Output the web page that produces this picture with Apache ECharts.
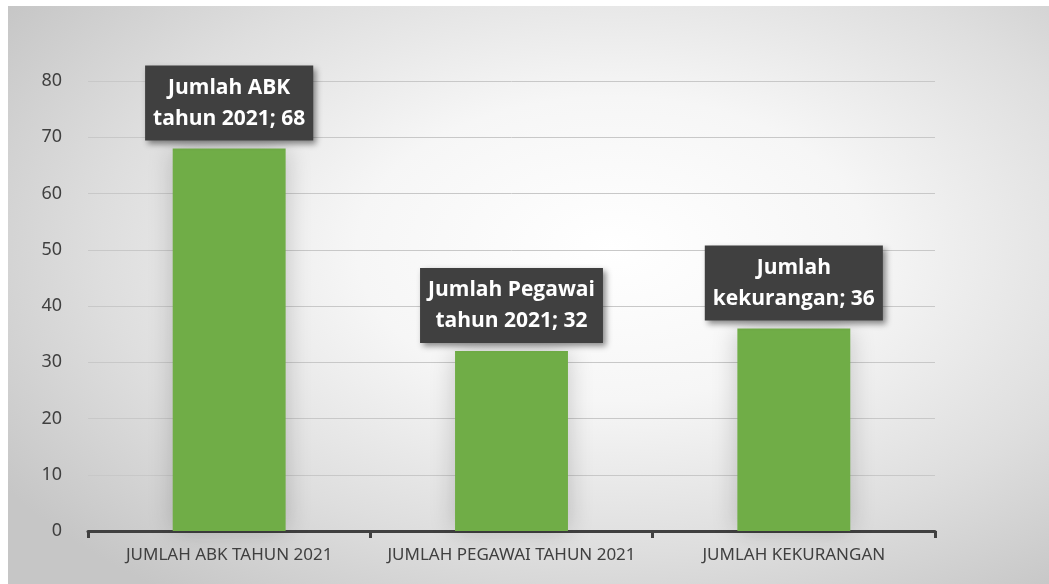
<!DOCTYPE html>
<html>
<head>
<meta charset="utf-8">
<script src="https://cdn.jsdelivr.net/npm/echarts@6/dist/echarts.min.js"></script>
<style>
  html, body { margin: 0; padding: 0; background: #fff; }
  #chart {
    position: absolute;
    left: 8px;
    top: 6px;
    width: 1041px;
    height: 578px;
    background: radial-gradient(ellipse 70% 75% at 58% 42%, #ffffff 0%, #f6f6f6 35%, #dedede 70%, #c6c6c6 100%);
  }
</style>
</head>
<body>
<div id="chart"></div>
<script>
// data
const categories = ["JUMLAH ABK TAHUN 2021", "JUMLAH PEGAWAI TAHUN 2021", "JUMLAH KEKURANGAN"];
const values = [68, 32, 36];
const labelTexts = ["Jumlah ABK\ntahun 2021; 68", "Jumlah Pegawai\ntahun 2021; 32", "Jumlah\nkekurangan; 36"];
const yTicks = [0, 10, 20, 30, 40, 50, 60, 70, 80];

const chart = echarts.init(document.getElementById("chart"));

const option = {
  animation: false,
  grid: {
    left: 80,
    right: 114,
    top: 75,
    bottom: 53,
  },
  xAxis: {
    type: "category",
    data: categories,
    axisLine: {
      lineStyle: { color: "#404040", width: 3 },
    },
    axisTick: {
      show: true,
      length: 7,
      lineStyle: { color: "#404040", width: 3 },
    },
    axisLabel: {
      interval: 0,
      color: "#404040",
      fontSize: 17,
      fontFamily: "Noto Sans",
      margin: 16,
    },
  },
  yAxis: {
    type: "value",
    min: yTicks[0],
    max: yTicks[yTicks.length - 1],
    interval: 10,
    axisLine: { show: false },
    axisTick: { show: false },
    axisLabel: {
      color: "#404040",
      fontSize: 18,
      fontFamily: "Noto Sans",
      margin: 26,
    },
    splitLine: {
      lineStyle: { color: "#c8c8c8", width: 1 },
    },
  },
  series: [
    {
      type: "bar",
      barWidth: "40%",
      data: values,
      itemStyle: {
        color: "#70AD47",
        shadowBlur: 24,
        shadowColor: "rgba(0,0,0,0.2)",
      },
      label: {
        show: true,
        position: "top",
        distance: 8,
        formatter: (p) => labelTexts[p.dataIndex],
        color: "#ffffff",
        fontFamily: "Open Sans",
        fontWeight: "bold",
        fontSize: 21,
        lineHeight: 31,
        align: "center",
        backgroundColor: "#404040",
        padding: [7, 8, 6, 8],
        shadowBlur: 6,
        shadowColor: "rgba(0,0,0,0.45)",
        shadowOffsetX: 3,
        shadowOffsetY: 3,
      },
    },
  ],
};

chart.setOption(option);
</script>
</body>
</html>
